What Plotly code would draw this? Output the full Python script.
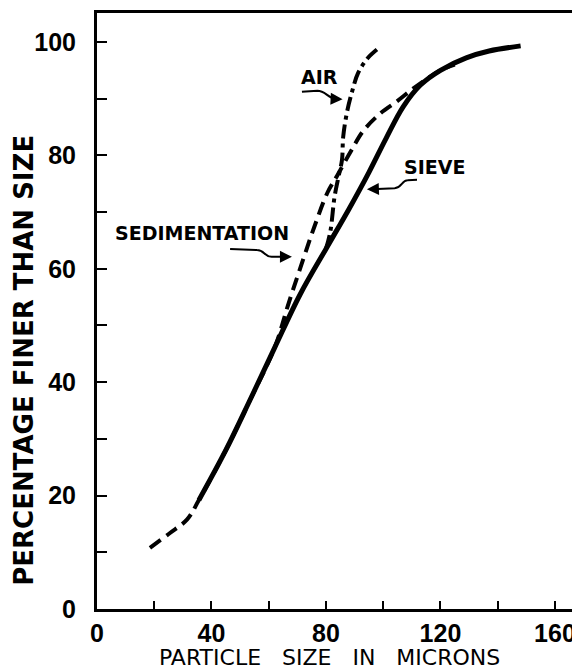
import plotly.graph_objects as go

# ---- data ----
sieve_x = [35.6, 45, 53.5, 62, 71, 80, 88, 95, 101, 107, 113, 120, 129, 137, 148]
sieve_y = [19.2, 28, 36.9, 46, 55.5, 63.5, 70.5, 77, 83, 88.6, 92.4, 95, 97.2, 98.4, 99.3]

sed_x = [18.5, 25.5, 31.5, 35.6, 45, 53.5, 62, 67, 72, 76, 80.5, 84, 89, 93, 99, 105, 110, 115, 120, 125]
sed_y = [10.8, 13.4, 15.8, 19.2, 28, 36.9, 46, 54, 61.6, 67.5, 73.4, 76.5, 81, 84.3, 87.4, 89.6, 91.6, 93.4, 95, 96]

air_x = [80, 81.5, 83, 84.5, 85.6, 86, 87.3, 89.1, 91.2, 94.7, 98.9]
air_y = [63.5, 66.5, 72.7, 76.5, 79.2, 83.2, 87.5, 91.2, 94.5, 97.2, 99.1]

x_ticks = [0, 40, 80, 120, 160]
y_ticks = [0, 20, 40, 60, 80, 100]

fig = go.Figure()
fig.add_trace(go.Scatter(x=sieve_x, y=sieve_y, mode="lines", name="SIEVE",
                         line=dict(color="black", width=5, shape="spline")))
fig.add_trace(go.Scatter(x=sed_x, y=sed_y, mode="lines", name="SEDIMENTATION",
                         line=dict(color="black", width=4, dash="13px,7px", shape="spline")))
fig.add_trace(go.Scatter(x=air_x, y=air_y, mode="lines", name="AIR",
                         line=dict(color="black", width=4, dash="14px,5px,4px,5px", shape="spline")))

lab_font = dict(family="DejaVu Sans", size=19, color="black", weight="bold")

# labels
fig.add_annotation(x=77.6, y=93.8, text="AIR", showarrow=False, font=lab_font)
fig.add_annotation(x=118, y=78.0, text="SIEVE", showarrow=False, font=lab_font)
fig.add_annotation(x=36.7, y=66.3, text="SEDIMENTATION", showarrow=False, font=lab_font)

# squiggly arrow tails
fig.add_shape(type="path", xref="x", yref="y",
              path="M 71.6,91.2 L 77,91.4 C 80,91.4 80.5,90 84,89.9",
              line=dict(color="black", width=2))
fig.add_shape(type="path", xref="x", yref="y",
              path="M 111.8,75.7 L 108.5,75.6 C 106.5,75.6 106.5,74.3 104,74.2 L 96,74.0",
              line=dict(color="black", width=2))
fig.add_shape(type="path", xref="x", yref="y",
              path="M 46.5,63.5 L 55.9,63.3 C 58.5,63.3 58.5,62.1 61,62.1 L 66,62.1",
              line=dict(color="black", width=2))
# arrow heads
for (hx, hy, tx, ty) in [(85.8, 89.9, 83.5, 89.95), (94.3, 74.0, 97, 74.05), (68.1, 62.1, 65.5, 62.1)]:
    fig.add_annotation(x=hx, y=hy, ax=tx, ay=ty, xref="x", yref="y", axref="x", ayref="y",
                       text="", showarrow=True, arrowhead=2, arrowsize=1.2, arrowwidth=2,
                       arrowcolor="black")

# axis titles
fig.add_annotation(x=0.487, y=-0.082, xref="paper", yref="paper", xanchor="center", yanchor="middle",
                   text="PARTICLE\u00a0\u00a0\u00a0SIZE\u00a0\u00a0\u00a0IN\u00a0\u00a0\u00a0MICRONS",
                   showarrow=False,
                   font=dict(family="DejaVu Sans", size=22, color="black"))
fig.add_annotation(x=-0.153, y=0.418, xref="paper", yref="paper", xanchor="center", yanchor="middle",
                   text="PERCENTAGE FINER THAN SIZE", textangle=-90, showarrow=False,
                   font=dict(family="DejaVu Sans", size=26, color="black", weight="bold"))

# faint right border
fig.add_shape(type="line", xref="paper", yref="paper", x0=1, x1=1, y0=0, y1=1,
              line=dict(color="#888888", width=1))

tick_font = dict(family="Liberation Sans", size=25, color="black", weight="bold")

# page body has an 8px margin: size the figure so the plot sits where the reference has it
fig.update_layout(
    width=572, height=661, autosize=False,
    margin=dict(l=89, r=5, t=5, b=60),
    paper_bgcolor="white", plot_bgcolor="white",
    showlegend=False,
    xaxis=dict(range=[0, 167], showgrid=False, zeroline=False, automargin=False,
               showline=True, linecolor="black", linewidth=3, mirror=True,
               tickmode="array", tickvals=x_ticks, ticktext=[str(v) for v in x_ticks],
               ticks="inside", ticklen=8, tickwidth=2, tickcolor="black",
               minor=dict(dtick=20, tick0=0, ticks="inside", ticklen=8, tickwidth=2, tickcolor="black"),
               tickfont=tick_font, ticklabelstandoff=0),
    yaxis=dict(range=[0, 105.1], showgrid=False, zeroline=False, automargin=False,
               showline=True, linecolor="black", linewidth=3,
               tickmode="array", tickvals=y_ticks, ticktext=[str(v) for v in y_ticks],
               ticks="inside", ticklen=10, tickwidth=2, tickcolor="black",
               minor=dict(dtick=10, tick0=0, ticks="inside", ticklen=10, tickwidth=2, tickcolor="black"),
               tickfont=tick_font, ticklabelstandoff=13),
)

fig.write_html("out.html")
